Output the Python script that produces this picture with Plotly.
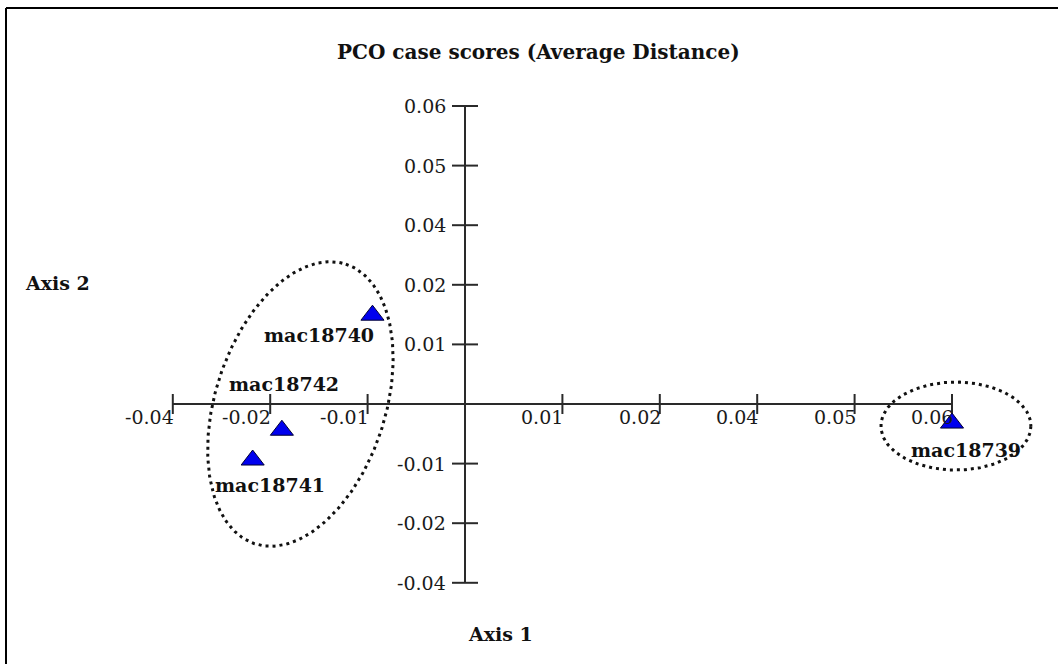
import numpy as np
import plotly.graph_objects as go

# ---- data ----
names = ["mac18740", "mac18742", "mac18741", "mac18739"]
axis1 = [-0.0095, -0.0188, -0.0218, 0.0500]
axis2 = [0.0149, -0.0044, -0.0094, -0.0032]

tick_vals = [-0.03, -0.02, -0.01, 0.0, 0.01, 0.02, 0.03, 0.04, 0.05]
x_tick_text = ["-0.04", "-0.02", "-0.01", "", "0.01", "0.02", "0.04", "0.05", "0.06"]
y_tick_text = ["-0.04", "-0.02", "-0.01", "", "0.01", "0.02", "0.04", "0.05", "0.06"]

# groups circled on the chart (centre in data units)
group_centres = [(-0.0169, 0.0000), (0.0504, -0.0037)]

# ---- layout geometry ----
W, H = 1058, 664
X0PX, Y0PX = 465, 404     # pixel of origin
XPX, YPX = 9740.0, 5960.0  # pixels per data unit
xr = [-X0PX / XPX, (W - X0PX) / XPX]
yr = [-(H - Y0PX) / YPX, Y0PX / YPX]

FONT = "DejaVu Serif"
AXC = "#2a2a2a"

fig = go.Figure()

# axis lines
fig.add_trace(go.Scatter(x=[tick_vals[0], tick_vals[-1]], y=[0, 0], mode="lines",
                         line=dict(color=AXC, width=2), hoverinfo="skip", showlegend=False))
fig.add_trace(go.Scatter(x=[0, 0], y=[tick_vals[0], tick_vals[-1]], mode="lines",
                         line=dict(color=AXC, width=2), hoverinfo="skip", showlegend=False))

# tick marks
tx, ty = [], []
hx = 10 / YPX
for v in tick_vals:
    if v == 0:
        continue
    tx += [v, v, None]
    ty += [-hx, hx, None]
hy = 13 / XPX
for v in tick_vals:
    if v == 0:
        continue
    tx += [-hy, hy, None]
    ty += [v, v, None]
fig.add_trace(go.Scatter(x=tx, y=ty, mode="lines", line=dict(color=AXC, width=2),
                         hoverinfo="skip", showlegend=False))

# ellipses
def ellipse(c, a, b, theta):
    t = np.linspace(0, 2 * np.pi, 240)
    th = np.deg2rad(theta)
    ux, uy = np.sin(th), np.cos(th)      # major axis direction (up = +)
    vx, vy = np.cos(th), -np.sin(th)
    dx = a * np.cos(t) * ux + b * np.sin(t) * vx
    dy = a * np.cos(t) * uy + b * np.sin(t) * vy
    return c[0] + dx / XPX, c[1] + dy / YPX

for c, a, b, th in [(group_centres[0], 147, 85, 18), (group_centres[1], 75, 44, 90)]:
    ex, ey = ellipse(c, a, b, th)
    fig.add_trace(go.Scatter(x=ex, y=ey, mode="lines",
                             line=dict(color="#111", width=3, dash="3px,4px"),
                             hoverinfo="skip", showlegend=False))

# points
fig.add_trace(go.Scatter(x=axis1, y=axis2, mode="markers", text=names,
                         marker=dict(symbol="triangle-up", size=20, color="#0000ee",
                                     line=dict(color="#000033", width=1)),
                         showlegend=False))

ann = []
# tick labels
for v, t in zip(tick_vals, x_tick_text):
    if t:
        ann.append(dict(x=v, y=0, text=t, showarrow=False, xanchor="right", yanchor="middle",
                        xshift=3, yshift=-13, font=dict(family=FONT, size=19, color="#1a1a1a")))
for v, t in zip(tick_vals, y_tick_text):
    if t:
        ann.append(dict(x=0, y=v, text=t, showarrow=False, xanchor="right", yanchor="middle",
                        xshift=-17, yshift=0, font=dict(family=FONT, size=19, color="#1a1a1a")))

# point labels
offs = {"mac18740": (-53, -20), "mac18742": (2, 46), "mac18741": (17, -25), "mac18739": (14, -27)}
for n, x, y in zip(names, axis1, axis2):
    dx, dy = offs[n]
    ann.append(dict(x=x, y=y, text="<b>%s</b>" % n, showarrow=False, xshift=dx, yshift=dy,
                    font=dict(family=FONT, size=19, color="#111")))

# titles
ann.append(dict(x=538 / W, y=1 - 52 / H, xref="paper", yref="paper", showarrow=False,
                xanchor="center", yanchor="middle",
                text="<b>PCO case scores (Average Distance)</b>",
                font=dict(family=FONT, size=20, color="#111")))
ann.append(dict(x=57 / W, y=1 - 283 / H, xref="paper", yref="paper", showarrow=False,
                xanchor="center", yanchor="middle",
                text="<b>Axis 2</b>", font=dict(family=FONT, size=19, color="#111")))
ann.append(dict(x=500 / W, y=1 - 634 / H, xref="paper", yref="paper", showarrow=False,
                xanchor="center", yanchor="middle",
                text="<b>Axis 1</b>", font=dict(family=FONT, size=19, color="#111")))

fig.update_layout(
    width=W, height=H,
    margin=dict(l=0, r=0, t=0, b=0),
    paper_bgcolor="white", plot_bgcolor="white",
    xaxis=dict(range=xr, visible=False, fixedrange=True),
    yaxis=dict(range=yr, visible=False, fixedrange=True),
    annotations=ann,
    shapes=[
        dict(type="line", xref="paper", yref="paper", x0=6 / W, x1=1, y0=1 - 8 / H, y1=1 - 8 / H,
             line=dict(color="black", width=2)),
        dict(type="line", xref="paper", yref="paper", x0=6 / W, x1=6 / W, y0=0, y1=1 - 8 / H,
             line=dict(color="black", width=2)),
    ],
)

fig.write_html("out.html")
